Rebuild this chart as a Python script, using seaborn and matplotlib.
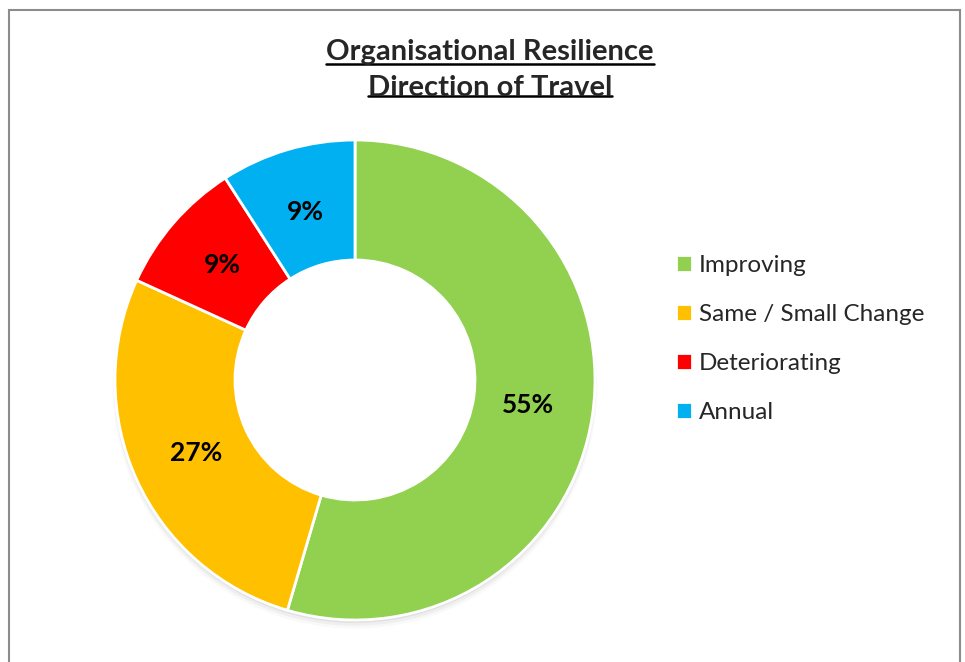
"""
Donut chart of organisational resilience direction of travel
"""

import matplotlib
matplotlib.use("Agg")
import matplotlib.pyplot as plt
from matplotlib.lines import Line2D
from matplotlib.patches import Rectangle, Wedge
import seaborn as sns

CATEGORIES = ["Improving", "Same / Small Change", "Deteriorating", "Annual"]
COUNTS = [6, 3, 1, 1]
COLOURS = ["#92D050", "#FFC000", "#FF0000", "#00B0F0"]
TITLE = "Organisational Resilience\nDirection of Travel"
TITLE_SIZE = 21

sns.set_theme(style="white")
plt.rcParams["font.family"] = ["Lato", "DejaVu Sans"]

W, H = 965, 662
fig = plt.figure(figsize=(W / 100, H / 100), dpi=100)
fig.patch.set_facecolor("white")

# chart border (bottom edge falls outside the picture)
fig.add_artist(Rectangle((9 / W, -0.05), (960 - 9) / W, (H - 10) / H + 0.05,
                         transform=fig.transFigure, fill=False,
                         edgecolor="#8c8c8c", linewidth=1.5))

cx, cy, r = 355, 380, 240
ax = fig.add_axes([(cx - r) / W, (H - cy - r) / H, 2 * r / W, 2 * r / H])

# soft shadow under the ring only
for i, a in enumerate([0.06, 0.04, 0.025]):
    ax.add_patch(Wedge((0, -0.012 - 0.007 * i), 1.0 + 0.005 * i, 0, 360,
                       width=0.06, color="black", alpha=a, zorder=0, lw=0,
                       clip_on=False))

wedges, texts, autotexts = ax.pie(
    COUNTS,
    colors=COLOURS,
    startangle=90,
    counterclock=False,
    autopct=lambda p: f"{p:.0f}%",
    pctdistance=0.73,
    wedgeprops=dict(width=0.5, edgecolor="white", linewidth=2, clip_on=False),
    textprops=dict(fontsize=19, fontweight="bold", color="black"),
)
ax.set_xlim(-1, 1)
ax.set_ylim(-1, 1)
ax.set_aspect("equal")
ax.axis("off")

title = fig.text(490 / W, 1 - 70 / H, TITLE, ha="center", va="center",
                 fontsize=TITLE_SIZE, fontweight="bold", linespacing=1.5)

leg = fig.legend(wedges, CATEGORIES, loc="center left",
                 bbox_to_anchor=(654 / W, 1 - 339 / H), frameon=False,
                 fontsize=17.5, handlelength=0.65, handleheight=0.65,
                 handletextpad=0.3, labelspacing=1.15)

# underline each title line
fig.canvas.draw()
renderer = fig.canvas.get_renderer()
lines = TITLE.split("\n")
bb = title.get_window_extent(renderer)
line_h = bb.height / len(lines)
for i, line in enumerate(lines):
    tmp = fig.text(0, 0, line, fontsize=TITLE_SIZE, fontweight="bold")
    w = tmp.get_window_extent(renderer).width
    tmp.remove()
    x0 = bb.x0 + (bb.width - w) / 2
    y = bb.y1 - (i + 1) * line_h + line_h * 0.18
    fig.add_artist(Line2D([x0 / W, (x0 + w) / W], [y / H, y / H],
                          transform=fig.transFigure, color="black", lw=1.8))

fig.savefig("out.png", dpi=100, facecolor="white")
